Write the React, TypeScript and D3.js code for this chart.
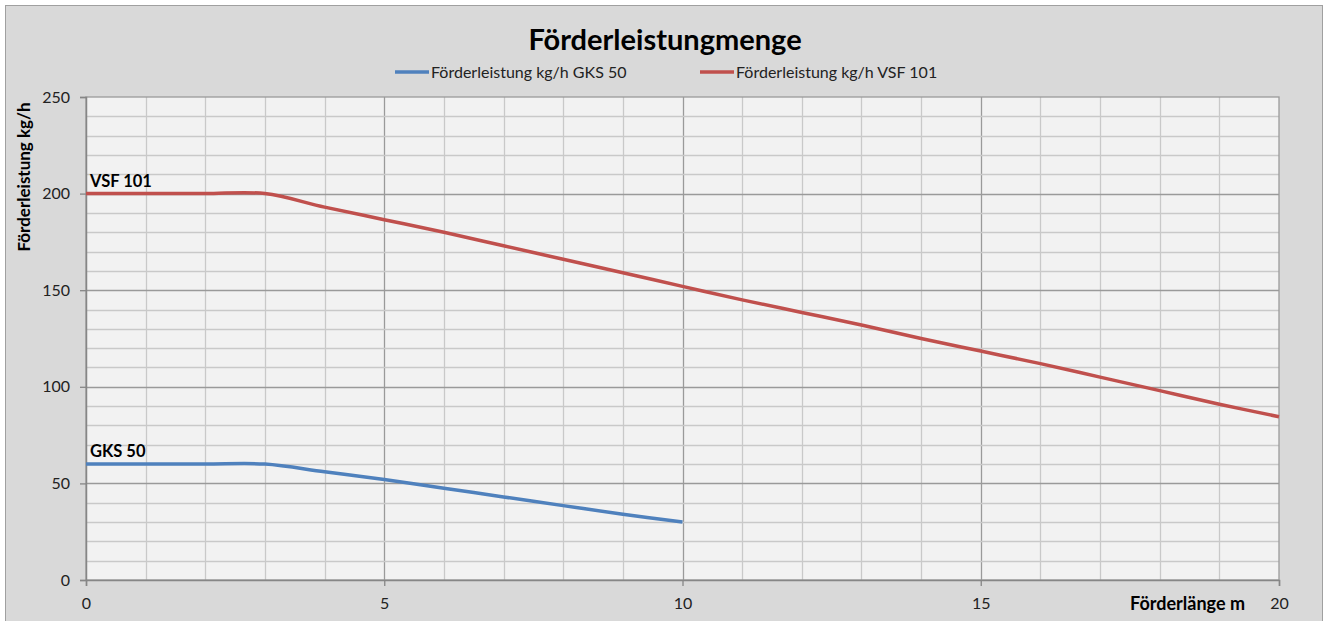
import React, { useEffect, useRef } from "react";
import * as d3 from "d3";

// Förderlänge in m
const lengths = [0, 1, 2, 3, 4, 5, 6, 7, 8, 9, 10, 11, 12, 13, 14, 15, 16, 17, 18, 19, 20];
const vsf101 = [200, 200, 200, 200, 193, 186.5, 180, 173, 166, 159, 152, 145, 138.5, 132, 125, 118.5, 112, 105, 98, 91, 84.5];
const gks50 = [60, 60, 60, 60, 56, 52, 47.5, 43, 38.5, 34, 30];
const yTicks = [0, 50, 100, 150, 200, 250];
const xTicks = [0, 5, 10, 15, 20];

const FONT = "Lato, 'Open Sans', sans-serif";
const W = 1327;
const H = 621;
const plot = { left: 86, right: 1279, top: 97, bottom: 580 };

const App = () => {
  const ref = useRef<SVGSVGElement>(null);

  useEffect(() => {
    if (!ref.current) return;
    const svg = d3.select(ref.current);
    svg.selectAll("*").remove();

    const x = d3.scaleLinear().domain([0, 20]).range([plot.left, plot.right]);
    const y = d3.scaleLinear().domain([0, 250]).range([plot.bottom, plot.top]);

    svg.append("rect").attr("width", W).attr("height", H).attr("fill", "#fff");
    svg
      .append("rect")
      .attr("x", 5.5)
      .attr("y", 5.5)
      .attr("width", 1317)
      .attr("height", 640)
      .attr("fill", "#d9d9d9")
      .attr("stroke", "#a0a0a0");

    svg
      .append("rect")
      .attr("x", plot.left)
      .attr("y", plot.top)
      .attr("width", plot.right - plot.left)
      .attr("height", plot.bottom - plot.top)
      .attr("fill", "#f2f2f2");

    // grid
    const grid = svg.append("g");
    d3.range(1, 20).forEach((v) => {
      grid
        .append("line")
        .attr("x1", Math.round(x(v)) + 0.5)
        .attr("x2", Math.round(x(v)) + 0.5)
        .attr("y1", plot.top)
        .attr("y2", plot.bottom)
        .attr("stroke", v % 5 === 0 ? "#9a9a9a" : "#c9c9c9")
        .attr("stroke-width", 1.3);
    });
    d3.range(10, 250, 10).forEach((v) => {
      grid
        .append("line")
        .attr("x1", plot.left)
        .attr("x2", plot.right)
        .attr("y1", Math.round(y(v)) + 0.5)
        .attr("y2", Math.round(y(v)) + 0.5)
        .attr("stroke", v % 50 === 0 ? "#9a9a9a" : "#c9c9c9")
        .attr("stroke-width", 1.3);
    });
    svg
      .append("rect")
      .attr("x", plot.left)
      .attr("y", plot.top)
      .attr("width", plot.right - plot.left)
      .attr("height", plot.bottom - plot.top)
      .attr("fill", "none")
      .attr("stroke", "#9a9a9a")
      .attr("stroke-width", 1.3);

    // axes
    const yAxis = svg
      .append("g")
      .attr("transform", `translate(${plot.left},0)`)
      .call(d3.axisLeft(y).tickValues(yTicks).tickSize(6).tickPadding(10));
    const xAxis = svg
      .append("g")
      .attr("transform", `translate(0,${plot.bottom})`)
      .call(d3.axisBottom(x).tickValues(xTicks).tickSize(6).tickPadding(12));
    [yAxis, xAxis].forEach((a) => {
      a.select(".domain").attr("stroke", "#868686").attr("stroke-width", 1.5);
      a.selectAll(".tick line").attr("stroke", "#868686").attr("stroke-width", 1.3);
      a.selectAll(".tick text")
        .attr("font-family", FONT)
        .attr("font-size", 16)
        .attr("fill", "#222");
    });

    // lines
    const line = d3
      .line<number>()
      .x((_, i) => x(lengths[i]))
      .y((d) => y(d))
      .curve(d3.curveCatmullRom.alpha(0));
    svg
      .append("path")
      .datum(vsf101)
      .attr("d", line)
      .attr("fill", "none")
      .attr("stroke", "#c0504d")
      .attr("stroke-width", 3.5);
    svg
      .append("path")
      .datum(gks50)
      .attr("d", line)
      .attr("fill", "none")
      .attr("stroke", "#4f81bd")
      .attr("stroke-width", 3.5);

    // data labels
    svg
      .append("text")
      .attr("x", x(0) + 4)
      .attr("y", y(vsf101[0]) - 7)
      .attr("font-family", FONT)
      .attr("font-weight", "bold")
      .attr("font-size", 16.5)
      .text("VSF 101");
    svg
      .append("text")
      .attr("x", x(0) + 4)
      .attr("y", y(gks50[0]) - 7)
      .attr("font-family", FONT)
      .attr("font-weight", "bold")
      .attr("font-size", 16.5)
      .text("GKS 50");

    // title
    svg
      .append("text")
      .attr("x", 665)
      .attr("y", 50)
      .attr("text-anchor", "middle")
      .attr("font-family", FONT)
      .attr("font-weight", "bold")
      .attr("font-size", 29)
      .text("Förderleistungmenge");

    // legend
    const legend = [
      { name: "Förderleistung kg/h GKS 50", color: "#4f81bd", x: 395 },
      { name: "Förderleistung kg/h VSF 101", color: "#c0504d", x: 700 },
    ];
    legend.forEach((l) => {
      svg
        .append("line")
        .attr("x1", l.x)
        .attr("x2", l.x + 34)
        .attr("y1", 72)
        .attr("y2", 72)
        .attr("stroke", l.color)
        .attr("stroke-width", 3.5);
      svg
        .append("text")
        .attr("x", l.x + 36)
        .attr("y", 77.5)
        .attr("font-family", FONT)
        .attr("font-size", 16)
        .attr("fill", "#222")
        .text(l.name);
    });

    // axis titles
    svg
      .append("text")
      .attr("transform", "translate(30,177) rotate(-90)")
      .attr("text-anchor", "middle")
      .attr("font-family", FONT)
      .attr("font-weight", "bold")
      .attr("font-size", 17)
      .text("Förderleistung kg/h");
    svg
      .append("text")
      .attr("x", 1245)
      .attr("y", 610)
      .attr("text-anchor", "end")
      .attr("font-family", FONT)
      .attr("font-weight", "bold")
      .attr("font-size", 18)
      .text("Förderlänge m");
  }, []);

  return (
    <svg
      ref={ref}
      width={W}
      height={H}
      style={{ position: "absolute", left: 0, top: 0 }}
    />
  );
};

export default App;
